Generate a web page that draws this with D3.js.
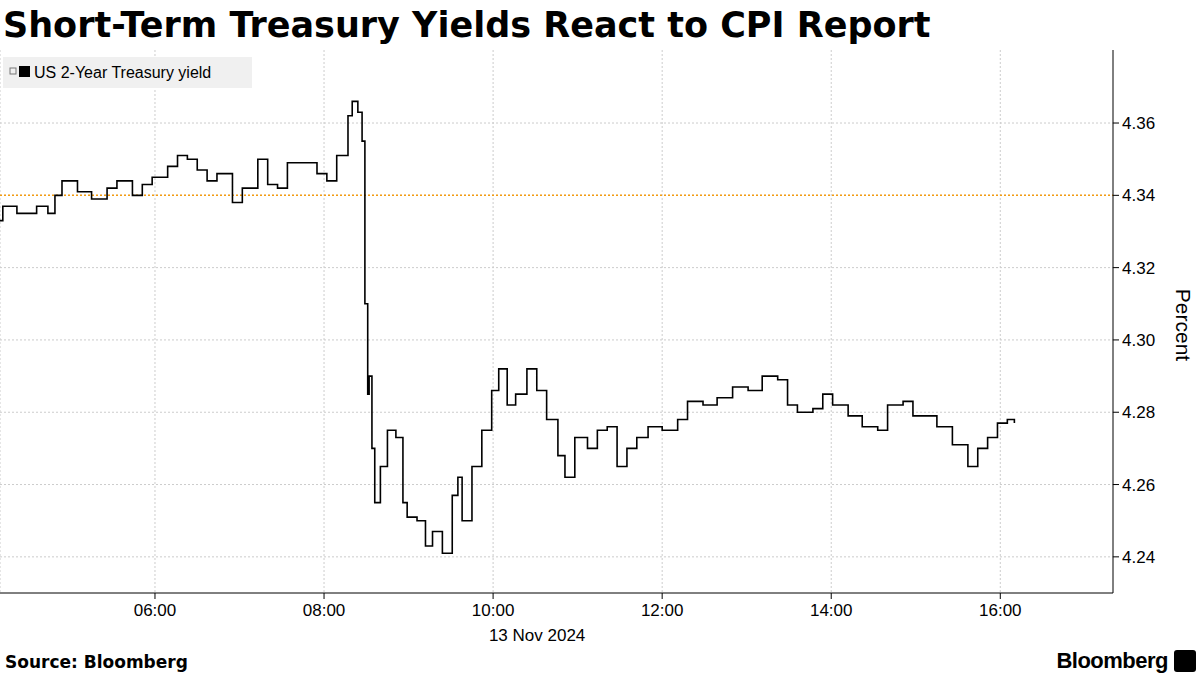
<!DOCTYPE html>
<html><head><meta charset="utf-8">
<script src="https://cdn.jsdelivr.net/npm/d3@7"></script>
<style>body{margin:0;background:#fff;font-family:"Liberation Sans",Arial,sans-serif}</style>
</head><body><svg id="c" width="1200" height="675"></svg>
<script>
// minutes since midnight, 13 Nov 2024
var minutes = [248,252,262,276,284,289,294,305,315,326,333,344,351,358,369,376,383,390,397,404,415,422,433,440,447,454,465,475,482,489,497,500,504,507,509,511,512,514,516,520,525,531,536,539,546,552,557,564,571,575,578,585,592,599,604,610,616,624,631,638,646,651,658,667,674,681,688,695,702,710,720,731,738,749,759,770,781,791,802,809,816,827,834,841,852,862,873,880,891,898,908,915,926,937,944,951,958,965,970];
var yields = [4.333,4.337,4.335,4.337,4.335,4.340,4.344,4.341,4.339,4.342,4.344,4.340,4.343,4.345,4.348,4.351,4.350,4.347,4.344,4.346,4.338,4.342,4.350,4.343,4.342,4.349,4.349,4.346,4.344,4.351,4.362,4.366,4.363,4.355,4.310,4.285,4.290,4.270,4.255,4.265,4.275,4.273,4.255,4.251,4.250,4.243,4.247,4.241,4.257,4.262,4.250,4.265,4.275,4.286,4.292,4.282,4.285,4.292,4.286,4.278,4.268,4.262,4.273,4.270,4.275,4.276,4.265,4.270,4.273,4.276,4.275,4.278,4.283,4.282,4.284,4.287,4.286,4.290,4.289,4.282,4.280,4.281,4.285,4.282,4.279,4.276,4.275,4.282,4.283,4.279,4.279,4.276,4.271,4.265,4.270,4.273,4.277,4.278,4.277];
var xTicks = [360,480,600,720,840,960];
var yTicks = [4.24,4.26,4.28,4.30,4.32,4.34,4.36];
var refLine = 4.34;

var svg = d3.select("#c");
var L=0,R=1113,T=50,B=593;
var x = d3.scaleLinear().domain([250,1040]).range([L,R]);
var y = d3.scaleLinear().domain([4.2300,4.3802]).range([B,T]);

svg.append("text").attr("x",3).attr("y",37).attr("font-size",35).attr("font-weight","bold")
  .attr("font-family","DejaVu Sans").text("Short-Term Treasury Yields React to CPI Report");

//网格
svg.selectAll(".vg").data(xTicks).enter().append("line")
  .attr("x1",d=>x(d)).attr("x2",d=>x(d)).attr("y1",T).attr("y2",B)
  .attr("stroke","#ccc").attr("stroke-dasharray","2,2");
svg.selectAll(".hg").data(yTicks).enter().append("line")
  .attr("x1",L).attr("x2",R).attr("y1",d=>y(d)).attr("y2",d=>y(d))
  .attr("stroke","#ccc").attr("stroke-dasharray","2,2");
svg.append("line").attr("x1",L).attr("x2",L).attr("y1",T).attr("y2",B).attr("stroke","#ccc").attr("stroke-dasharray","2,2");

svg.append("line").attr("x1",L).attr("x2",R).attr("y1",y(refLine)).attr("y2",y(refLine))
  .attr("stroke","#f39c12").attr("stroke-width",1.5).attr("stroke-dasharray","2,2");

//坐标轴
svg.append("line").attr("x1",L).attr("x2",R).attr("y1",B).attr("y2",B).attr("stroke","#000");
svg.append("line").attr("x1",R).attr("x2",R).attr("y1",T).attr("y2",B).attr("stroke","#000");
svg.selectAll(".xt").data(xTicks).enter().append("line")
  .attr("x1",d=>x(d)).attr("x2",d=>x(d)).attr("y1",B).attr("y2",B+6).attr("stroke","#000");
svg.selectAll(".xl").data(xTicks).enter().append("text")
  .attr("x",d=>x(d)).attr("y",B+23).attr("text-anchor","middle").attr("font-size",17)
  .text(d=>d3.format("02")(Math.floor(d/60))+":00");
svg.append("text").attr("x",x(600)+44).attr("y",B+48).attr("text-anchor","middle").attr("font-size",17).text("13 Nov 2024");
svg.selectAll(".yt").data(yTicks).enter().append("line")
  .attr("x1",R).attr("x2",R+6).attr("y1",d=>y(d)).attr("y2",d=>y(d)).attr("stroke","#000");
svg.selectAll(".yl").data(yTicks).enter().append("text")
  .attr("x",R+9).attr("y",d=>y(d)+6).attr("font-size",17).text(d=>d.toFixed(2));
svg.append("text").attr("transform","translate(1176,325) rotate(90)").attr("text-anchor","middle")
  .attr("font-size",21).text("Percent");

svg.append("path").datum(d3.zip(minutes,yields))
  .attr("d",d3.line().x(d=>x(d[0])).y(d=>y(d[1])).curve(d3.curveStepAfter))
  .attr("fill","none").attr("stroke","#000").attr("stroke-width",1.6);

//图例
svg.append("rect").attr("x",3).attr("y",57).attr("width",249).attr("height",31).attr("fill","#f0f0f0");
svg.append("rect").attr("x",10).attr("y",68).attr("width",6).attr("height",6).attr("fill","none").attr("stroke","#777").attr("stroke-width",1);
svg.append("rect").attr("x",19).attr("y",66).attr("width",11).attr("height",11).attr("fill","#000");
svg.append("text").attr("x",34).attr("y",78).attr("font-size",16).text("US 2-Year Treasury yield");

svg.append("text").attr("x",5).attr("y",668).attr("font-size",17).attr("font-weight","bold")
  .attr("font-family","DejaVu Sans").text("Source: Bloomberg");
svg.append("text").attr("x",1168).attr("y",668).attr("text-anchor","end").attr("font-size",22)
  .attr("font-weight","bold").attr("letter-spacing",-0.5).text("Bloomberg");
svg.append("rect").attr("x",1174).attr("y",650).attr("width",22).attr("height",22).attr("rx",3).attr("fill","#000");
</script></body></html>
